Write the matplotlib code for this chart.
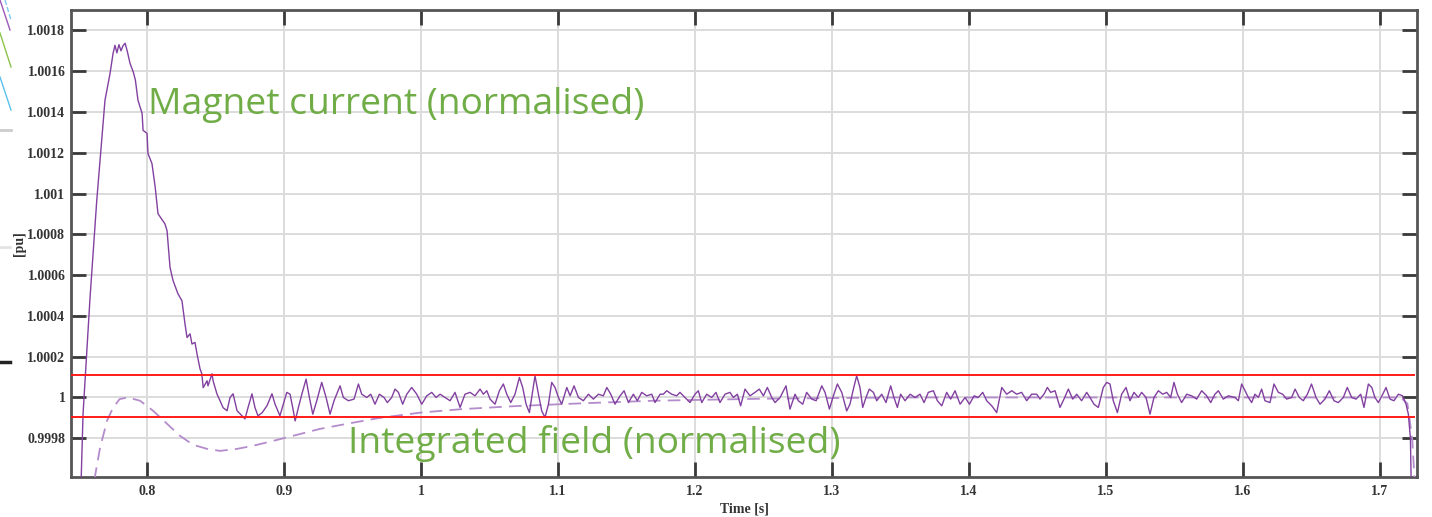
#------------------------------------------------------------------------------
#                   imports
#------------------------------------------------------------------------------
import matplotlib
matplotlib.use("Agg")
import matplotlib.pyplot as plt
from matplotlib.lines import Line2D
import numpy as np
#------------------------------------------------------------------------------
#                   data (deviation from 1 pu in ppm)
#------------------------------------------------------------------------------
current_t = [
    0.7515, 0.7533, 0.7584, 0.7633, 0.7693, 0.7730, 0.7752, 0.7766, 0.7780, 0.7795,
    0.7810, 0.7825, 0.7840, 0.7855, 0.7876, 0.7900, 0.7915, 0.7934, 0.7964, 0.7971,
    0.8000, 0.8007, 0.8036, 0.8060, 0.8070, 0.8080, 0.8130, 0.8146, 0.8168, 0.8190,
    0.8226, 0.8255, 0.8277, 0.8292, 0.8314, 0.8328, 0.8350, 0.8365, 0.8387, 0.8400,
    0.8410, 0.8438, 0.8445, 0.8474, 0.8482, 0.8510, 0.8533, 0.8555, 0.8584, 0.8606,
    0.8628, 0.8657, 0.8693, 0.8715, 0.8737, 0.8766, 0.8788, 0.8810, 0.8840, 0.8876,
    0.8912, 0.8934, 0.8970,
    0.8995, 0.9020, 0.9044, 0.9068, 0.9081, 0.9105, 0.9130, 0.9161, 0.9185, 0.9210,
    0.9239, 0.9275, 0.9307, 0.9336, 0.9365, 0.9409, 0.9433, 0.9470, 0.9511, 0.9543,
    0.9567, 0.9604, 0.9633, 0.9664, 0.9696, 0.9730, 0.9754, 0.9786, 0.9810, 0.9835,
    0.9866, 0.9896, 0.9932, 0.9969, 1.0005, 1.0042, 1.0078, 1.0110, 1.0139, 1.0175,
    1.0212, 1.0248, 1.0285, 1.0321, 1.0358,
    1.0394, 1.0431, 1.0455, 1.0480, 1.0504, 1.0540, 1.0572, 1.0601, 1.0626, 1.0655,
    1.0686, 1.0718, 1.0742, 1.0767, 1.0791, 1.0808, 1.0832, 1.0857, 1.0881, 1.0905,
    1.0930, 1.0954, 1.0978, 1.1003, 1.1027, 1.1064, 1.1088, 1.1117, 1.1149, 1.1185,
    1.1222, 1.1258, 1.1295, 1.1331, 1.1356, 1.1385, 1.1416, 1.1453, 1.1482, 1.1514,
    1.1550, 1.1579, 1.1611, 1.1647, 1.1684, 1.1708, 1.1745,
    1.1769, 1.1793, 1.1830, 1.1866, 1.1890, 1.1927, 1.1963, 1.2000, 1.2024, 1.2049,
    1.2085, 1.2122, 1.2153, 1.2182, 1.2219, 1.2255, 1.2280, 1.2309, 1.2333, 1.2365,
    1.2401, 1.2438, 1.2469, 1.2499, 1.2528, 1.2560, 1.2584, 1.2621, 1.2664, 1.2693,
    1.2730, 1.2754, 1.2786, 1.2815, 1.2852, 1.2884, 1.2925, 1.2949, 1.2981, 1.3010,
    1.3039, 1.3071, 1.3107, 1.3131,
    1.3156, 1.3180, 1.3204, 1.3224, 1.3248, 1.3272, 1.3302, 1.3326, 1.3363, 1.3394,
    1.3428, 1.3452, 1.3477, 1.3501, 1.3533, 1.3570, 1.3606, 1.3642, 1.3672, 1.3703,
    1.3740, 1.3769, 1.3801, 1.3837, 1.3866, 1.3898, 1.3935, 1.3971, 1.4003, 1.4037,
    1.4068, 1.4100, 1.4129, 1.4166, 1.4202, 1.4239, 1.4275, 1.4312, 1.4348, 1.4384,
    1.4421, 1.4457, 1.4494, 1.4518,
    1.4547, 1.4572, 1.4596, 1.4628, 1.4664, 1.4693, 1.4725, 1.4757, 1.4786, 1.4822,
    1.4859, 1.4883, 1.4912, 1.4944, 1.4980, 1.5005, 1.5029, 1.5053, 1.5083, 1.5114,
    1.5146, 1.5175, 1.5204, 1.5236, 1.5260, 1.5292, 1.5321, 1.5350, 1.5382, 1.5414,
    1.5443, 1.5472, 1.5496, 1.5521, 1.5552, 1.5589, 1.5625, 1.5662, 1.5698, 1.5735,
    1.5764, 1.5795, 1.5820, 1.5856, 1.5893,
    1.5942, 1.5966, 1.5990, 1.6015, 1.6039, 1.6063, 1.6087, 1.6112, 1.6136, 1.6160,
    1.6197, 1.6226, 1.6258, 1.6289, 1.6319, 1.6355, 1.6380, 1.6411, 1.6440, 1.6470,
    1.6500, 1.6533, 1.6562, 1.6598, 1.6630, 1.6664, 1.6696, 1.6732, 1.6761, 1.6793,
    1.6825, 1.6859, 1.6883, 1.6915, 1.6940, 1.6963, 1.6988, 1.7020, 1.7044, 1.7073,
    1.7102, 1.7134, 1.7165, 1.7190, 1.7207, 1.7222, 1.7232,
]
current_ppm = [
    -500, -80, 490, 966, 1457, 1589, 1687, 1727, 1690, 1730,
    1700, 1725, 1737, 1700, 1638, 1595, 1556, 1457, 1393, 1310,
    1295, 1196, 1147, 1029, 966, 901, 852, 818, 637, 573,
    508, 474, 361, 294, 312, 262, 270, 213, 140, 116,
    48, 82, 57, 116, 82, 18, -16, -50, -65, 0,
    18, -65, -90, -105, -50, 18, -50, -90, -75, -40,
    18, -32, -90,
    -33, 25, 16, -66, -115, -49, 16, 90, 0, -82,
    -16, 74, 0, -82, -16, 57, 0, -16, -8, 66,
    16, 0, 16, -33, 16, 0, -25, 0, 41, 25,
    -33, 16, 49, 16, -33, 8, 25, 0, 16, 0,
    -16, 25, -49, 16, 25,
    8, 41, 16, 33, -8, -33, 33, 66, 16, -25,
    16, 98, 49, -33, -74, 0, 106, 16, -66, -98,
    -33, 74, 49, 0, -33, 49, 8, 57, 0, -16,
    16, -8, 16, 8, 49, 16, -33, 8, 33, -25,
    16, -16, 25, 8, 16, -25, 16,
    16, 33, 16, 8, 25, 0, -25, 16, 33, -25,
    16, 0, 25, -25, 16, 25, 0, 16, -41, 41,
    8, 25, 41, 8, 49, 0, -25, 0, 57, -57,
    16, -16, -33, 25, -8, -16, 57, 25, -57, 8,
    66, 25, -66, -33,
    41, 106, 49, -49, 0, 41, 25, -16, 16, -25,
    57, 0, -49, 16, -16, 16, 0, 16, -25, 25,
    33, -16, -41, 25, -8, 33, -33, 0, -33, 8,
    0, 25, -16, -41, -74, 49, 16, 33, 16, 25,
    -16, 16, 16, -8,
    16, 49, 25, 33, -49, -8, 41, -8, 16, -16,
    25, 0, -33, -49, 49, 74, 66, -16, -74, 16,
    49, -16, 25, 0, 25, 0, -82, 0, 33, 16,
    25, 0, 74, 16, -25, 16, 8, -8, 33, 8,
    -25, 16, 33, -8, 8,
    0, -16, 66, 33, 0, -25, 16, 0, 41, -16,
    -25, 66, 25, 16, -8, 0, 41, 0, -16, 16,
    66, 0, -33, -8, 33, -16, -25, 0, 49, 0,
    -8, 16, -49, 66, 49, 0, -25, 16, 49, -8,
    -16, 16, 8, -33, -82, -200, -600,
]

field_t = [0.7590, 0.7657, 0.7708, 0.7752, 0.7800, 0.7860, 0.7949, 0.8044, 0.8146,
           0.8240, 0.8336, 0.8438, 0.8533, 0.8657, 0.8774, 0.8920, 0.9066, 0.9263,
           0.9460, 0.9700, 1.0000, 1.0300, 1.0700, 1.1200, 1.1700, 1.2500, 1.3500,
           1.5000, 1.6500, 1.7150, 1.7200, 1.7235, 1.7260]
field_ppm = [-500, -247, -114, -50, -8, 0, -16, -65, -129,
             -188, -232, -252, -262, -252, -237, -213, -188, -154,
             -129, -100, -74, -57, -42, -28, -16, -6, 0,
             0, 0, 0, -30, -200, -500]

band_ppm = [-98, 111]        # red tolerance lines

x_ticks = [0.8, 0.9, 1.0, 1.1, 1.2, 1.3, 1.4, 1.5, 1.6, 1.7]
x_labels = ["0.8", "0.9", "1", "1.1", "1.2", "1.3", "1.4", "1.5", "1.6", "1.7"]
y_ticks = [0.9998, 1.0, 1.0002, 1.0004, 1.0006, 1.0008, 1.001, 1.0012, 1.0014, 1.0016, 1.0018]
y_labels = ["0.9998", "1", "1.0002", "1.0004", "1.0006", "1.0008", "1.001",
            "1.0012", "1.0014", "1.0016", "1.0018"]
#------------------------------------------------------------------------------
#                   figure
#------------------------------------------------------------------------------
W, H = 1432, 517
fig = plt.figure(figsize=(W / 100, H / 100), dpi=100)
ax = fig.add_axes([71 / W, 1 - 477 / H, (1417 - 71) / W, (477 - 10) / H])

cur = 1 + np.array(current_ppm) * 1e-6
fld = 1 + np.array(field_ppm) * 1e-6

ax.plot(field_t, fld, color="#b48ccb", lw=1.3, dashes=(7, 4), zorder=3)
ax.plot(current_t, cur, color="#8240a0", lw=1.0, zorder=4)
for b in band_ppm:
    ax.axhline(1 + b * 1e-6, xmin=0.0, xmax=0.998, color="#ff1a1a", lw=1.4, zorder=5)

ax.set_xlim(0.7445, 1.727)
ax.set_ylim(0.99961, 1.0019)

ax.set_xticks(x_ticks)
ax.set_xticklabels(x_labels)
ax.set_yticks(y_ticks)
ax.set_yticklabels(y_labels)
ax.grid(True, color="#dcdcdc", lw=1.4)
ax.set_axisbelow(True)

tfont = dict(family="Liberation Serif", weight="bold", size=10)
for lab in ax.get_xticklabels() + ax.get_yticklabels():
    lab.set_fontfamily("Liberation Serif")
    lab.set_fontweight("bold")
    lab.set_fontsize(10)
    lab.set_color("#333333")

ax.tick_params(direction="in", length=11, width=2, color="#3a3a3a",
               top=True, right=True)
ax.tick_params(axis="y", pad=4)
ax.tick_params(axis="x", pad=6)
for s in ax.spines.values():
    s.set_color("#555555")
    s.set_linewidth(2)

ax.set_xlabel("Time [s]", fontdict=tfont, color="#333333", labelpad=3)
ax.set_ylabel("[pu]", fontdict=tfont, color="#333333", labelpad=1)

# green captions
fig.text(148 / W, 1 - 114 / H, "Magnet current (normalised)", family="Open Sans",
         fontsize=26.8, color="#70ad47", va="baseline", ha="left")
fig.text(348 / W, 1 - 453 / H, "Integrated field (normalised)", family="Open Sans",
         fontsize=26.8, color="#70ad47", va="baseline", ha="left")

# bits of the slide behind the chart at the left edge
def seg(x0, y0, x1, y1, **kw):
    fig.add_artist(Line2D([x0 / W, x1 / W], [1 - y0 / H, 1 - y1 / H],
                          transform=fig.transFigure, **kw))

seg(0, 0, 10, 30, color="#9b59b6", lw=1)
seg(5, 0, 11, 20, color="#7fc8f0", lw=1, ls="--")
seg(0, 33, 11, 67, color="#8bc34a", lw=1)
seg(0, 77, 11, 110, color="#5bc0eb", lw=1)
seg(0, 130, 11, 130, color="#cccccc", lw=2)
seg(0, 247, 10, 247, color="#e3e3e3", lw=2)
seg(0, 362, 10, 362, color="#222222", lw=2.5)

fig.savefig("out.png", dpi=100)
